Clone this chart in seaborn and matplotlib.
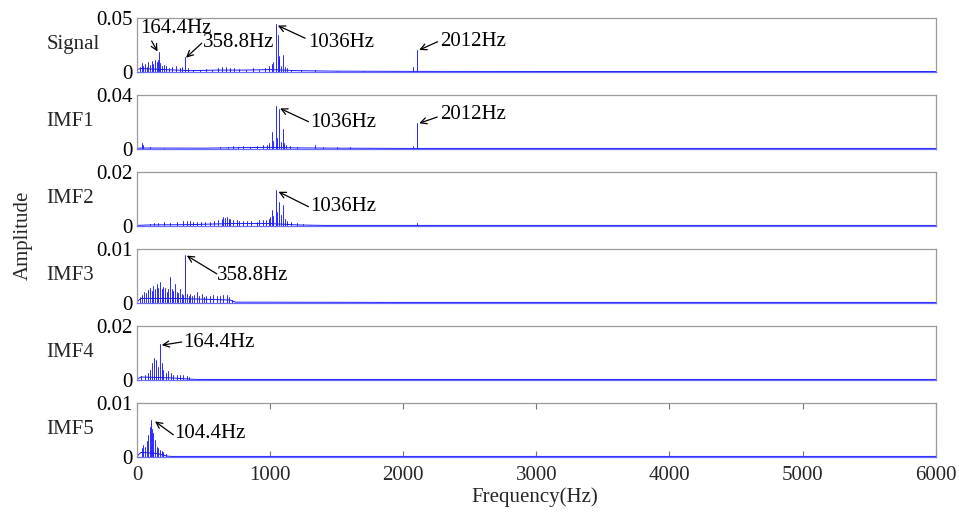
import matplotlib
matplotlib.use("Agg")
import matplotlib.pyplot as plt
import numpy as np
import pandas as pd
import seaborn as sns

# ---------------- data ----------------
panel_names = ["Signal", "IMF1", "IMF2", "IMF3", "IMF4", "IMF5"]
y_max = [0.05, 0.04, 0.02, 0.01, 0.02, 0.01]
y_max_labels = ["0.05", "0.04", "0.02", "0.01", "0.02", "0.01"]
x_ticks = [0, 1000, 2000, 3000, 4000, 5000, 6000]

# spectral peaks (frequency Hz, amplitude)
sig_f = [3, 20, 35, 48, 60, 72, 85, 98, 110, 122, 135, 148, 158, 164, 175, 190, 205, 215,
         240, 265, 290, 320, 340, 361, 380, 420, 470, 520, 560, 610, 640, 670, 700, 730,
         770, 820, 870, 920, 960, 990, 1013, 1025, 1043, 1058, 1063, 1070, 1085, 1095,
         1110, 1130, 1160, 1230, 1340, 1500, 1700, 2075, 2103]
sig_a = [0.022, 0.004, 0.008, 0.005, 0.007, 0.0045, 0.009, 0.006, 0.010, 0.007, 0.011,
         0.009, 0.011, 0.0187, 0.008, 0.005, 0.006, 0.005, 0.003, 0.004, 0.005, 0.003,
         0.004, 0.0134, 0.003, 0.002, 0.002, 0.0025, 0.002, 0.003, 0.004, 0.0045, 0.003,
         0.0035, 0.0025, 0.002, 0.003, 0.002, 0.003, 0.005, 0.007, 0.009, 0.0446, 0.034,
         0.012, 0.0145, 0.005, 0.016, 0.004, 0.003, 0.002, 0.0015, 0.002, 0.001, 0.001,
         0.004, 0.0206]

imf1_f = [35, 48, 100, 200, 620, 680, 720, 760, 800, 850, 900, 950, 980, 995, 1013, 1025,
          1043, 1055, 1068, 1080, 1095, 1105, 1120, 1150, 1200, 1339, 1400, 1500, 1600,
          1750, 2075, 2103]
imf1_a = [0.0042, 0.0026, 0.001, 0.0008, 0.0012, 0.0015, 0.0018, 0.0015, 0.0018, 0.0016,
          0.0022, 0.0025, 0.003, 0.004, 0.0128, 0.006, 0.0319, 0.008, 0.0294, 0.005,
          0.0146, 0.004, 0.003, 0.002, 0.0015, 0.003, 0.001, 0.001, 0.0012, 0.0008,
          0.002, 0.019]

imf2_f = [98, 130, 160, 200, 250, 300, 348, 373, 398, 420, 449, 480, 510, 549, 580, 610,
          640, 649, 660, 675, 690, 699, 720, 750, 770, 800, 830, 860, 900, 920, 950, 970,
          990, 1000, 1013, 1025, 1043, 1055, 1068, 1080, 1095, 1110, 1125, 1160, 1200,
          1250, 1300, 2103]
imf2_a = [0.0008, 0.001, 0.0009, 0.0012, 0.001, 0.0013, 0.0017, 0.0018, 0.0017, 0.0012,
          0.0012, 0.0013, 0.0012, 0.0014, 0.0017, 0.0021, 0.0025, 0.0034, 0.0028, 0.0031,
          0.0026, 0.0025, 0.0022, 0.002, 0.0017, 0.0018, 0.0016, 0.0017, 0.0015, 0.0022,
          0.0021, 0.0023, 0.0025, 0.0032, 0.0059, 0.0035, 0.0133, 0.005, 0.009, 0.004,
          0.0078, 0.0024, 0.0017, 0.0012, 0.0009, 0.0006, 0.0004, 0.0009]

imf3_f = [20, 40, 55, 70, 85, 100, 110, 120, 135, 148, 160, 173, 185, 198, 211, 225, 236,
          248, 260, 273, 286, 298, 310, 323, 335, 348, 361, 375, 390, 399, 415, 430, 449,
          465, 486, 500, 520, 549, 570, 599, 620, 645, 674, 690, 710]
imf3_a = [0.001, 0.0015, 0.002, 0.0018, 0.0024, 0.0028, 0.0022, 0.0031, 0.0026, 0.0035,
          0.0028, 0.0039, 0.0025, 0.003, 0.0028, 0.002, 0.0026, 0.0048, 0.0025, 0.0022,
          0.0035, 0.002, 0.0018, 0.0026, 0.0016, 0.0014, 0.0089, 0.0016, 0.0013, 0.0017,
          0.0012, 0.0014, 0.002, 0.0012, 0.0016, 0.001, 0.0013, 0.0012, 0.0014, 0.0013,
          0.0012, 0.0014, 0.0015, 0.001, 0.0005]

imf4_f = [30, 60, 85, 101, 115, 126, 140, 158, 170, 185, 198, 218, 236, 253, 273, 298, 323,
          348, 373, 393]
imf4_a = [0.0012, 0.0019, 0.0025, 0.0035, 0.0063, 0.0082, 0.0075, 0.0047, 0.0132, 0.0063,
          0.0035, 0.0025, 0.0031, 0.0025, 0.0019, 0.0016, 0.0019, 0.0016, 0.0013, 0.001]

imf5_f = [35, 48, 60, 73, 85, 96, 106, 114, 123, 133, 148, 160, 173, 185, 198, 215]
imf5_a = [0.0016, 0.0022, 0.0019, 0.0029, 0.0041, 0.0056, 0.0068, 0.0051, 0.0045, 0.0031,
          0.0019, 0.0016, 0.0013, 0.0011, 0.0008, 0.0005]

# background noise floor (frequency Hz, amplitude)
sig_floor_f = [0, 30, 200, 400, 600, 800, 1000, 1200, 1500, 2000, 3000, 4000, 5000, 6000]
sig_floor_a = [0.002, 0.003, 0.002, 0.001, 0.0015, 0.0015, 0.002, 0.001, 0.0005, 0.0003,
               0.0002, 0.0002, 0.0002, 0.0002]
imf1_floor_f = [0, 30, 500, 800, 1000, 1200, 1500, 2000, 3000, 4000, 5000, 6000]
imf1_floor_a = [0.0003, 0.0005, 0.0004, 0.0008, 0.001, 0.0006, 0.0004, 0.0002, 0.0002,
                0.0002, 0.0002, 0.0002]
imf2_floor_f = [0, 100, 400, 700, 1000, 1200, 1400, 2000, 3000, 4000, 5000, 6000]
imf2_floor_a = [0.0001, 0.0003, 0.0004, 0.0008, 0.0008, 0.0003, 0.0001, 0.0001, 0.0001,
                0.0001, 0.0001, 0.0001]
imf3_floor_f = [0, 30, 300, 700, 740, 2000, 4000, 6000]
imf3_floor_a = [0.0002, 0.0008, 0.0008, 0.0005, 0.0001, 0.00005, 0.00005, 0.00005]
imf4_floor_f = [0, 30, 250, 400, 450, 2000, 4000, 6000]
imf4_floor_a = [0.0002, 0.001, 0.0007, 0.0002, 0.0001, 0.0001, 0.0001, 0.0001]
imf5_floor_f = [0, 30, 150, 230, 260, 2000, 4000, 6000]
imf5_floor_a = [0.0001, 0.0008, 0.0006, 0.0001, 0.00005, 0.00005, 0.00005, 0.00005]

peaks = [(sig_f, sig_a), (imf1_f, imf1_a), (imf2_f, imf2_a), (imf3_f, imf3_a),
         (imf4_f, imf4_a), (imf5_f, imf5_a)]
floors = [(sig_floor_f, sig_floor_a), (imf1_floor_f, imf1_floor_a),
          (imf2_floor_f, imf2_floor_a), (imf3_floor_f, imf3_floor_a),
          (imf4_floor_f, imf4_floor_a), (imf5_floor_f, imf5_floor_a)]

# annotations: (label, text x, text y, arrow tail x, tail y, arrow tip x, tip y)
annotations = [
    [("164.4Hz", 23, 0.0400, 110, 0.0287, 154, 0.0189),
     ("358.8Hz", 499, 0.0273, 486, 0.0266, 368, 0.0131),
     ("1036Hz", 1288, 0.0273, 1263, 0.0313, 1058, 0.0431),
     ("2012Hz", 2278, 0.0281, 2258, 0.0280, 2120, 0.0203)],
    [("1036Hz", 1301, 0.0196, 1288, 0.0202, 1075, 0.0301),
     ("2012Hz", 2278, 0.0252, 2256, 0.0237, 2120, 0.0190)],
    [("1036Hz", 1301, 0.0071, 1288, 0.0071, 1063, 0.0127)],
    [("358.8Hz", 604, 0.0051, 599, 0.0054, 374, 0.0088)],
    [("164.4Hz", 348, 0.0138, 336, 0.0141, 186, 0.0129)],
    [("104.4Hz", 281, 0.0044, 273, 0.0041, 135, 0.0066)],
]

# ---------------- styling ----------------
sns.set_theme(style="white")
plt.rcParams["font.family"] = ["Liberation Serif", "DejaVu Serif"]
plt.rcParams["font.size"] = 15
plt.rcParams["axes.linewidth"] = 0.8

BLUE = "#1a1aff"
GRAY = "#9a9a9a"
FS = 15

fig = plt.figure(figsize=(9.59, 5.16), dpi=100)
W, H = 959, 516
left = 137 / W
width = (935.7 - 137) / W
height = 53.5 / H

for i, name in enumerate(panel_names):
    bottom_px = 71.7 + 77.0 * i
    ax = fig.add_axes([left, 1 - bottom_px / H, width, height])

    pf, pa = peaks[i]
    rows = []
    for k, (f, a) in enumerate(zip(pf, pa)):
        rows.append({"f": f, "a": 0.0, "uid": k})
        rows.append({"f": f, "a": a, "uid": k})
    dfp = pd.DataFrame(rows)
    sns.lineplot(data=dfp, x="f", y="a", units="uid", estimator=None, sort=False,
                 color=BLUE, lw=0.65, ax=ax, legend=False)

    ff, fa = floors[i]
    dff = pd.DataFrame({"f": ff, "a": fa})
    sns.lineplot(data=dff, x="f", y="a", estimator=None, sort=False,
                 color=BLUE, lw=0.7, ax=ax, legend=False)

    ax.set_xlim(0, 6000)
    ax.set_ylim(0, y_max[i])
    ax.set_yticks([0, y_max[i]])
    ax.set_yticklabels(["0", y_max_labels[i]], fontsize=FS)
    ax.tick_params(axis="y", direction="in", length=0, pad=3, colors="black")
    ax.set_xlabel("")
    ax.set_ylabel("")

    for s in ["top", "right", "left"]:
        ax.spines[s].set_color(GRAY)
        ax.spines[s].set_linewidth(0.9)
    ax.spines["bottom"].set_color("#6a6aff")
    ax.spines["bottom"].set_linewidth(0.9)

    if i == len(panel_names) - 1:
        ax.set_xticks(x_ticks)
        ax.set_xticklabels([str(t) for t in x_ticks], fontsize=FS)
        ax.tick_params(axis="x", direction="in", length=4, width=0.8, color="#777777",
                       pad=7, top=True, bottom=True)
    else:
        ax.set_xticks([])

    ax.text(-0.113, 0.5, name, transform=ax.transAxes, ha="left", va="center",
            fontsize=FS)

    for lab, tx, ty, ax_, ay_, px, py in annotations[i]:
        ax.annotate("", xy=(px, py), xytext=(ax_, ay_),
                    arrowprops=dict(arrowstyle="->", color="black", lw=0.9,
                                    shrinkA=0, shrinkB=0, mutation_scale=11),
                    annotation_clip=False)
        ax.text(tx, ty, lab, ha="left", va="center", fontsize=FS, color="black")

fig.text(535 / W, 1 - 497 / H, "Frequency(Hz)", ha="center", va="center", fontsize=FS)
fig.text(23 / W, 1 - 235 / H, "Amplitude", ha="center", va="center", rotation=90,
         fontsize=FS)

fig.savefig("out.png", dpi=100)
